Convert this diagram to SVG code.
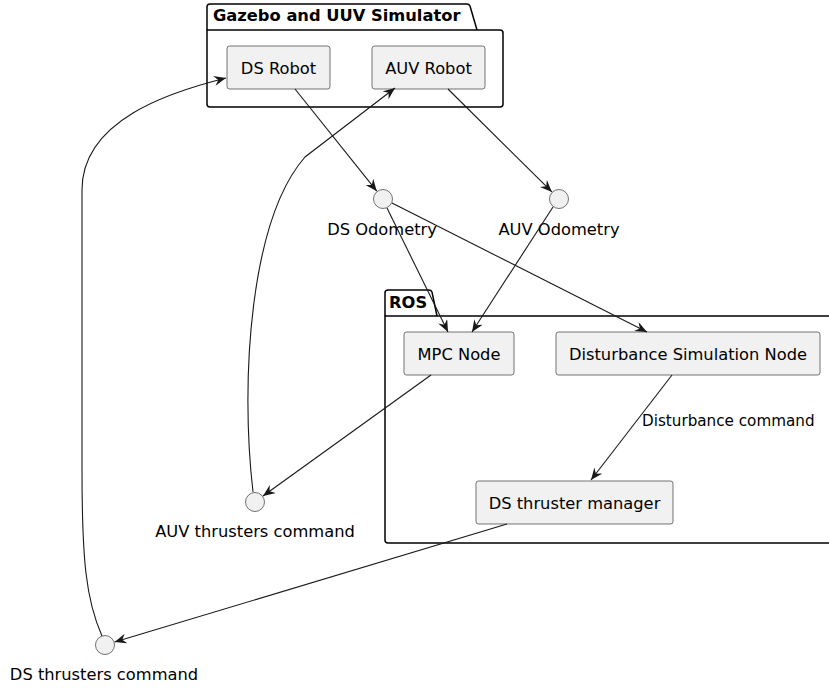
<svg xmlns="http://www.w3.org/2000/svg" width="829" height="688" viewBox="0 0 829 688">
<style>
.pkg{fill:none;stroke:#000;stroke-width:1.5}
.ptitle{font-family:"DejaVu Sans",sans-serif;font-weight:bold;font-size:16.3px;fill:#000}
.box{fill:#F1F1F1;stroke:#181818;stroke-width:0.6}
.lbl{font-family:"DejaVu Sans",sans-serif;font-size:16.3px;fill:#000;text-anchor:middle}
.elbl{font-family:"DejaVu Sans",sans-serif;font-size:15.2px;fill:#000}
.edge{fill:none;stroke:#181818;stroke-width:1.1}
</style>
<defs>
<marker id="ah" viewBox="0 0 12 10" refX="12" refY="5" markerWidth="12" markerHeight="10" markerUnits="userSpaceOnUse" orient="auto">
<path d="M0,0 L12,5 L0,10 L4,5 Z" fill="#181818"/>
</marker>
</defs>
<rect width="829" height="688" fill="#fff"/>
<g id="pkg-gazebo">
<path class="pkg" d="M207,30 L207,7 Q207,4 210,4 L467,4 Q469,4 470,6 L477,30"/>
<path class="pkg" d="M207,30 L500,30 Q503,30 503,33 L503,104 Q503,107 500,107 L210,107 Q207,107 207,104 Z"/>
<text class="ptitle" x="213" y="21">Gazebo and UUV Simulator</text>
</g>
<g id="pkg-ros">
<path class="pkg" d="M385,316 L385,293 Q385,290 388,290 L429,290 Q431,290 432,292 L437,316"/>
<path class="pkg" d="M840,316 L385,316 L385,540 Q385,543 388,543 L840,543"/>
<text class="ptitle" x="389" y="308">ROS</text>
</g>
<g id="ds-robot">
<rect class="box" x="227" y="46" width="103" height="43" rx="2.5"/>
<text class="lbl" x="278.5" y="73.5">DS Robot</text>
</g>
<g id="auv-robot">
<rect class="box" x="372" y="46" width="113" height="43" rx="2.5"/>
<text class="lbl" x="428.5" y="73.5">AUV Robot</text>
</g>
<g id="ds-odometry">
<circle class="box" cx="383" cy="199" r="9.5"/>
<text class="lbl" x="382" y="235">DS Odometry</text>
</g>
<g id="auv-odometry">
<circle class="box" cx="559" cy="199" r="9.5"/>
<text class="lbl" x="559" y="235">AUV Odometry</text>
</g>
<g id="mpc-node">
<rect class="box" x="404" y="332" width="110" height="43" rx="2.5"/>
<text class="lbl" x="459" y="360">MPC Node</text>
</g>
<g id="disturbance-node">
<rect class="box" x="556" y="332" width="264" height="43" rx="2.5"/>
<text class="lbl" x="688" y="360">Disturbance Simulation Node</text>
</g>
<g id="ds-thruster-manager">
<rect class="box" x="476" y="481" width="197" height="43" rx="2.5"/>
<text class="lbl" x="574.5" y="509">DS thruster manager</text>
</g>
<g id="auv-thrusters-command">
<circle class="box" cx="255" cy="502" r="9.5"/>
<text class="lbl" x="255" y="537">AUV thrusters command</text>
</g>
<g id="ds-thrusters-command">
<circle class="box" cx="105" cy="645" r="9.5"/>
<text class="lbl" x="104" y="680">DS thrusters command</text>
</g>
<g id="connectors">
<path class="edge" marker-end="url(#ah)" d="M295,89 L376.8,191.2"/>
<path class="edge" marker-end="url(#ah)" d="M448,89 L551.9,191.9"/>
<path class="edge" marker-end="url(#ah)" d="M387,208 L448,332"/>
<path class="edge" marker-end="url(#ah)" d="M553,207 L472,332"/>
<path class="edge" marker-end="url(#ah)" d="M392,203 L647,332"/>
<path class="edge" marker-end="url(#ah)" d="M672,375 L591,480"/>
<text class="elbl" x="642" y="426">Disturbance command</text>
<path class="edge" marker-end="url(#ah)" d="M431,375 L263,496"/>
<path class="edge" marker-end="url(#ah)" d="M253,492 C240,380 250,220 305,157 L395,88"/>
<path class="edge" marker-end="url(#ah)" d="M507,524 L114.6,642"/>
<path class="edge" marker-end="url(#ah)" d="M102,636 C86,600 82,560 82,470 L82,190 C82,120 170,92 226,78"/>
</g>
</svg>
